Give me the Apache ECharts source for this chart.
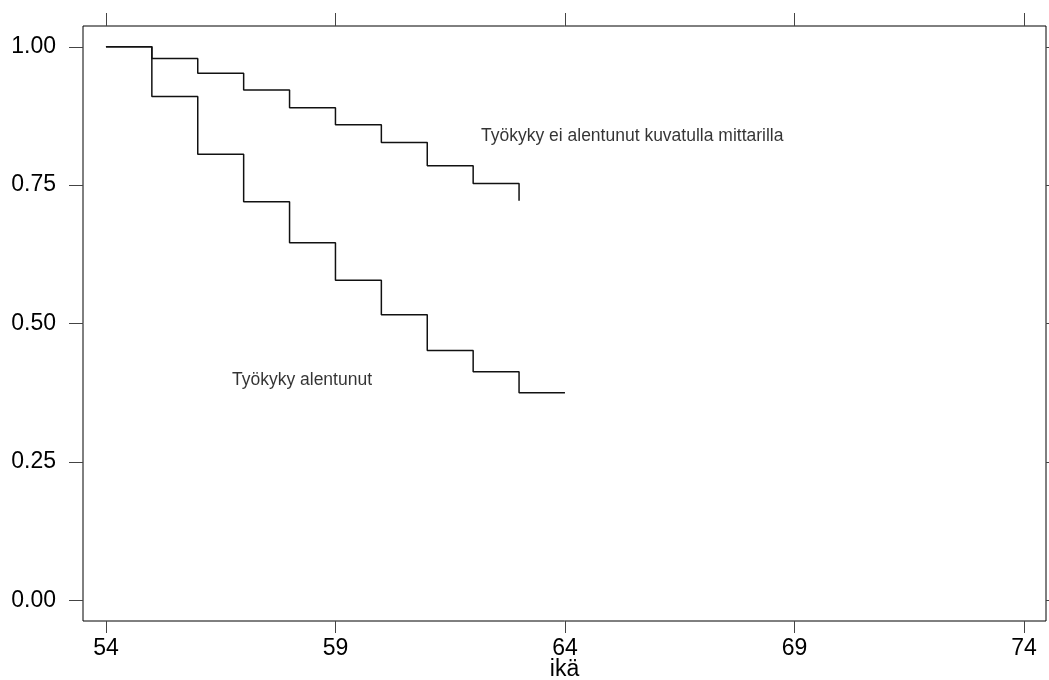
<!DOCTYPE html>
<html>
<head>
<meta charset="utf-8">
<script src="https://cdn.jsdelivr.net/npm/echarts@6/dist/echarts.min.js"></script>
<style>
html,body{margin:0;padding:0;background:#fff;}
#chart{width:1049px;height:680px;}
</style>
</head>
<body>
<div id="chart"></div>
<script>
// Kaplan-Meier style step curves
const agesNotReduced = [54, 55, 56, 57, 58, 59, 60, 61, 62, 63];
const survNotReduced = [1.00, 0.979, 0.952, 0.922, 0.890, 0.859, 0.827, 0.785, 0.753, 0.722];
const agesReduced = [54, 55, 56, 57, 58, 59, 60, 61, 62, 63, 64];
const survReduced = [1.00, 0.910, 0.806, 0.720, 0.646, 0.578, 0.516, 0.451, 0.413, 0.375, 0.375];

const xTicks = [54, 59, 64, 69, 74];
const yTicks = [0, 0.25, 0.5, 0.75, 1.0];

const labelTexts = ['Työkyky ei alentunut kuvatulla mittarilla', 'Työkyky alentunut'];
const labelAges = [62.17, 56.745];
const labelValues = [0.839, 0.397];

const xAxisName = 'ikä';

const FONT = '"Liberation Sans", Arial, sans-serif';

const chart = echarts.init(document.getElementById('chart'), null, {renderer: 'canvas'});

const tickStyle = {color: '#444', width: 1};

const option = {
  animation: false,
  backgroundColor: '#fff',
  grid: {
    left: 83, right: 3, top: 26, bottom: 59,
    containLabel: false, outerBoundsMode: 'none',
    show: true, borderColor: '#000', borderWidth: 1, backgroundColor: 'transparent'
  },
  xAxis: [
    {
      type: 'value', position: 'bottom', min: 53.5, max: 74.48,
      name: xAxisName, nameLocation: 'middle', nameGap: 37, nameMoveOverlap: false,
      nameTextStyle: {fontFamily: FONT, fontSize: 23, color: '#000'},
      axisLine: {show: false, onZero: false},
      splitLine: {show: false},
      axisTick: {show: true, length: 12, inside: false, lineStyle: tickStyle, customValues: xTicks},
      axisLabel: {show: true, margin: 16, fontFamily: FONT, fontSize: 23, color: '#000', customValues: xTicks,
        formatter: v => String(v)}
    },
    {
      type: 'value', position: 'top', min: 53.5, max: 74.48,
      axisLine: {show: false, onZero: false},
      splitLine: {show: false},
      axisTick: {show: true, length: 13, inside: false, lineStyle: tickStyle, customValues: xTicks},
      axisLabel: {show: false}
    }
  ],
  yAxis: [
    {
      type: 'value', position: 'left', min: -0.0375, max: 1.0375,
      axisLine: {show: false, onZero: false},
      splitLine: {show: false},
      axisTick: {show: true, length: 14, inside: false, lineStyle: tickStyle, customValues: yTicks},
      axisLabel: {show: true, margin: 27, fontFamily: FONT, fontSize: 23, color: '#000', customValues: yTicks,
        formatter: v => v.toFixed(2)}
    },
    {
      type: 'value', position: 'right', min: -0.0375, max: 1.0375,
      axisLine: {show: false, onZero: false},
      splitLine: {show: false},
      axisTick: {show: true, length: 3, inside: false, lineStyle: tickStyle, customValues: yTicks},
      axisLabel: {show: false}
    }
  ],
  series: [
    {
      type: 'line', step: 'end', showSymbol: false, symbol: 'none',
      data: agesNotReduced.map((a, i) => [a, survNotReduced[i]]),
      lineStyle: {color: '#111', width: 1.5}
    },
    {
      type: 'line', step: 'end', showSymbol: false, symbol: 'none',
      data: agesReduced.map((a, i) => [a, survReduced[i]]),
      lineStyle: {color: '#111', width: 1.5}
    },
    {
      type: 'scatter', symbolSize: 0, silent: true,
      data: labelTexts.map((t, i) => ({value: [labelAges[i], labelValues[i]], name: t})),
      label: {
        show: true, position: 'right', distance: 0,
        formatter: p => p.name,
        fontFamily: FONT, fontSize: 17.5, color: '#000'
      }
    }
  ]
};
chart.setOption(option);
</script>
</body>
</html>
